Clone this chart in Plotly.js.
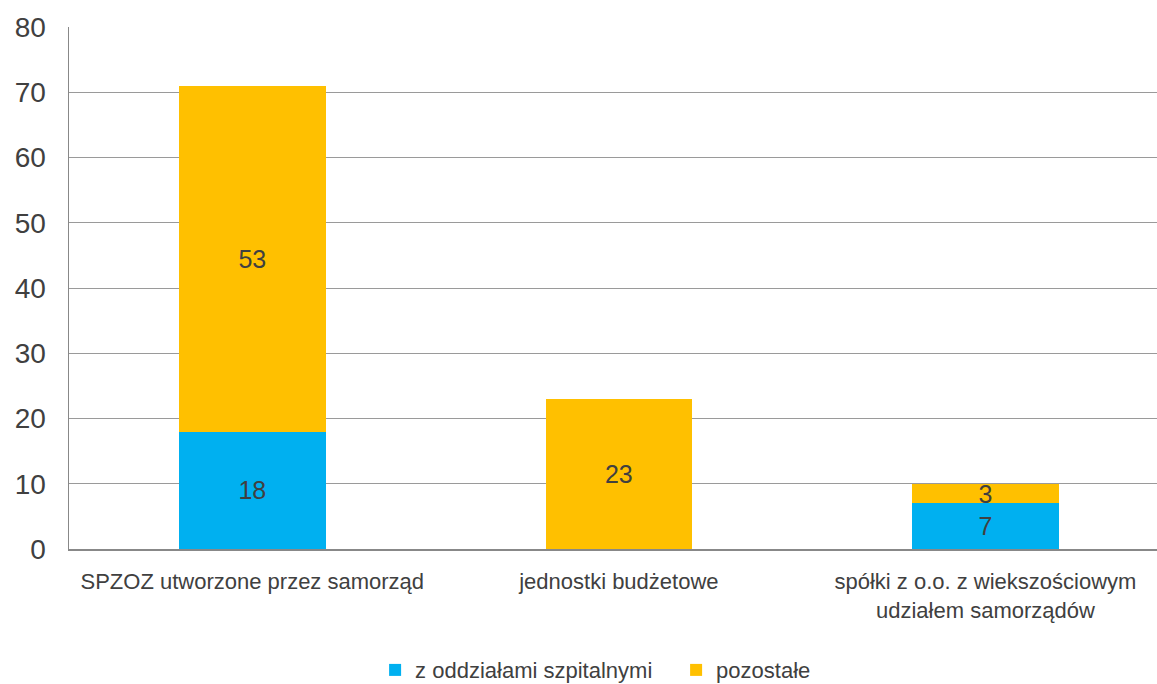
<!DOCTYPE html>
<html>
<head>
<meta charset="utf-8">
<script src="https://cdn.plot.ly/plotly-3.0.1.min.js"></script>
<style>html,body{margin:0;padding:0;background:#fff;}#chart{width:1157px;height:684px;}</style>
</head>
<body>
<div id="chart"></div>
<script>
const categories = ["SPZOZ utworzone przez samorząd", "jednostki budżetowe", "spółki z o.o. z wiekszościowym<br>udziałem samorządów"];
const seriesNames = ["z oddziałami szpitalnymi", "pozostałe"];
const withWards = [18, null, 7];
const others = [53, 23, 3];
const yTicks = [0, 10, 20, 30, 40, 50, 60, 70, 80];

const FONT = "'Liberation Sans', Arial, sans-serif";
const TXT = "#404040";

const traces = [
  {type: "bar", name: seriesNames[0], x: [0,1,2], y: withWards, marker: {color: "#00B0F0"},
   text: withWards.map(v => v == null ? "" : String(v)), textposition: "inside", insidetextanchor: "middle",
   textangle: 0, constraintext: "none", textfont: {family: FONT, size: 25, color: TXT}, hoverinfo: "skip"},
  {type: "bar", name: seriesNames[1], x: [0,1,2], y: others, marker: {color: "#FFC000"},
   text: others.map(v => String(v)), textposition: "inside", insidetextanchor: "middle",
   textangle: 0, constraintext: "none", textfont: {family: FONT, size: 25, color: TXT}, hoverinfo: "skip"}
];

const layout = {
  width: 1157, height: 684,
  margin: {l: 69, r: 0, t: 27, b: 135, autoexpand: false},
  barmode: "stack", bargap: 0.6,
  paper_bgcolor: "#fff", plot_bgcolor: "#fff",
  font: {family: FONT, color: TXT, size: 22},
  xaxis: {range: [-0.5, 2.468], tickvals: [0,1,2], ticktext: categories, showgrid: false, automargin: false,
          showline: true, linecolor: "#888", linewidth: 2, ticks: "", tickfont: {size: 22, color: TXT},
          zeroline: false, ticklabelstandoff: 12},
  yaxis: {range: [0, 80], tickvals: yTicks, showgrid: true, gridcolor: "#9a9a9a", gridwidth: 1, automargin: false,
          showline: true, linecolor: "#888", linewidth: 1.5, ticks: "", ticklen: 0, tickfont: {size: 28, color: TXT},
          zeroline: false, ticklabelstandoff: 16},
  legend: {orientation: "h", x: 0.558, xanchor: "center", y: -0.232, yanchor: "middle",
           font: {size: 22, color: TXT}, itemwidth: 30, entrywidth: 256, traceorder: "normal"},
  showlegend: true
};

Plotly.newPlot("chart", traces, layout, {staticPlot: true, displayModeBar: false});
</script>
</body>
</html>
